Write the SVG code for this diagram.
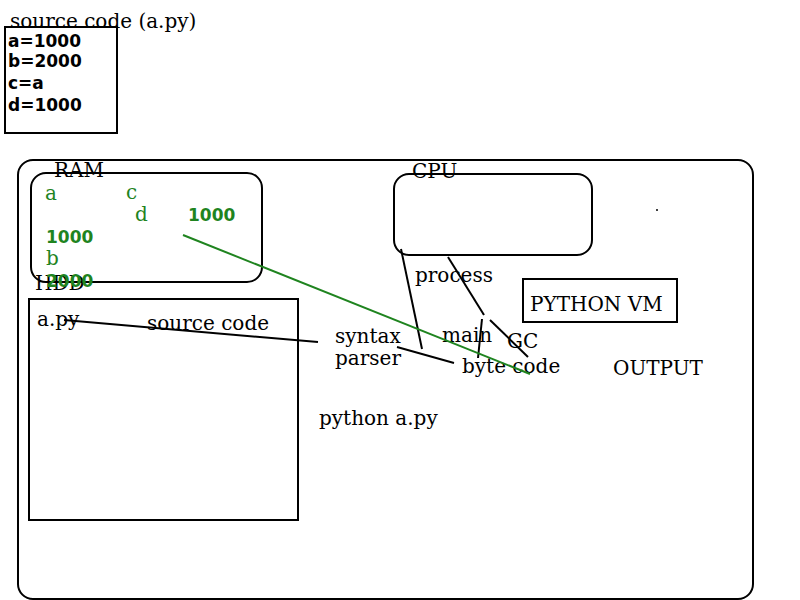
<svg xmlns="http://www.w3.org/2000/svg" width="800" height="600" viewBox="0 0 800 600">
<style>
.box{fill:none;stroke:#000;stroke-width:2}
.s{font-family:"DejaVu Serif",serif;font-size:20px;fill:#000}
.b{font-family:"DejaVu Sans","Liberation Sans",sans-serif;font-weight:bold;font-size:17px;fill:#000}
.g{fill:#1f841f}
.ln{stroke:#000;stroke-width:2;fill:none}
.gl{stroke:#1f841f;stroke-width:2;fill:none}
</style>
<rect width="800" height="600" fill="#fff"/>
<g id="source">
<rect class="box" x="5" y="27" width="112" height="106"/>
<text class="s" x="10" y="28">source code (a.py)</text>
<text class="b" x="8" y="47">a=1000</text>
<text class="b" x="8" y="67">b=2000</text>
<text class="b" x="8" y="89">c=a</text>
<text class="b" x="8" y="111">d=1000</text>
</g>
<g id="machine">
<rect class="box" x="18" y="160" width="735" height="439" rx="15"/>
</g>
<g id="ram">
<rect class="box" x="31" y="173" width="231" height="109" rx="15"/>
<text class="s" x="54" y="177">RAM</text>
<text class="s g" x="45" y="200">a</text>
<text class="s g" x="126" y="199">c</text>
<text class="s g" x="135" y="221">d</text>
<text class="b g" x="188" y="221">1000</text>
<text class="b g" x="46" y="243">1000</text>
<text class="s g" x="46" y="265">b</text>
</g>
<g id="hdd">
<rect class="box" x="29" y="299" width="269" height="221"/>
<text class="s" x="35" y="290">HDD</text>
<text class="b g" x="46" y="287">2000</text>
<text class="s" x="37" y="326">a.py</text>
<text class="s" x="147" y="330">source code</text>
</g>
<g id="cpu">
<rect class="box" x="394" y="174" width="198" height="81" rx="15"/>
<text class="s" x="412" y="178">CPU</text>
</g>
<g id="vm">
<rect class="box" x="523" y="279" width="154" height="43"/>
<text class="s" x="530" y="311">PYTHON VM</text>
</g>
<g id="labels">
<circle cx="657" cy="210" r="1" fill="#000"/>
<text class="s" x="415" y="282">process</text>
<text class="s" x="335" y="343">syntax</text>
<text class="s" x="335" y="365">parser</text>
<text class="s" x="442" y="342">main</text>
<text class="s" x="507" y="348">GC</text>
<text class="s" x="462" y="373">byte code</text>
<text class="s" x="613" y="375">OUTPUT</text>
<text class="s" x="319" y="425">python a.py</text>
</g>
<g id="connectors">
<line class="ln" x1="64" y1="320" x2="318" y2="342"/>
<line class="ln" x1="397" y1="347" x2="454" y2="363"/>
<line class="ln" x1="401" y1="249" x2="422" y2="349"/>
<line class="ln" x1="448" y1="257" x2="484" y2="315"/>
<line class="ln" x1="482" y1="319" x2="478" y2="358"/>
<line class="ln" x1="490" y1="320" x2="528" y2="357"/>
<line class="gl" x1="183" y1="235" x2="530" y2="374"/>
</g>
</svg>
